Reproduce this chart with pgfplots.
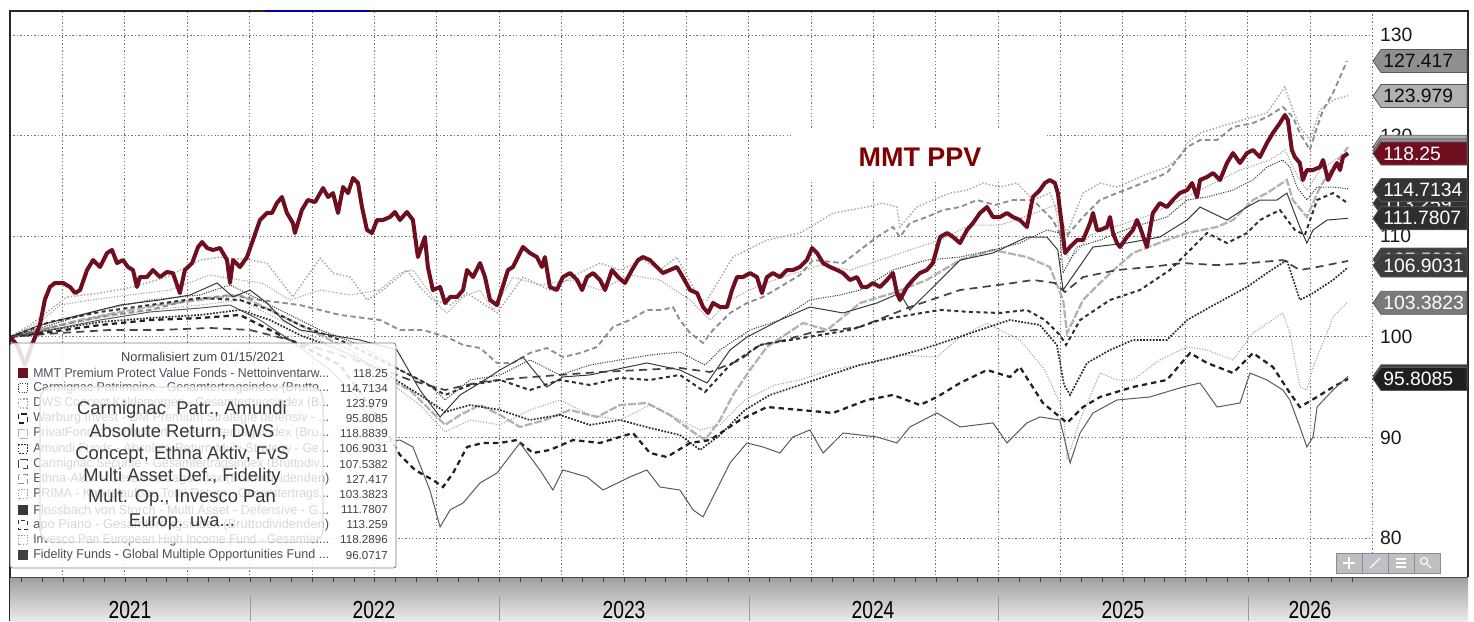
\documentclass[border=0pt]{standalone}
\usepackage{fontspec}
\setmainfont{Liberation Sans}
\newfontfamily\narrowfont[FakeStretch=0.78]{Liberation Sans}
\usepackage{graphicx}
\usepackage{pgfplots}
\pgfplotsset{compat=1.18}
\definecolor{mmtred}{HTML}{6E0E1E}
\definecolor{ppvred}{HTML}{800000}
\definecolor{dwsc}{HTML}{A8A8A8}
\definecolor{ethnac}{HTML}{8E8E8E}
\definecolor{privc}{HTML}{B2B2B2}
\definecolor{invc}{HTML}{9C9C9C}
\definecolor{cpatc}{HTML}{3C3C3C}
\definecolor{flossc}{HTML}{383838}
\definecolor{apoc}{HTML}{303030}
\definecolor{csecc}{HTML}{444444}
\definecolor{amuc}{HTML}{2C2C2C}
\definecolor{primac}{HTML}{A2A2A2}
\definecolor{warbc}{HTML}{222222}
\definecolor{fidc}{HTML}{5A5A5A}
\definecolor{legtxt}{HTML}{4A4F5C}
\tikzset{
 sdws/.style={dwsc, line width=1.1pt, dash pattern=on 1.1pt off 1.4pt},
 sethna/.style={ethnac, line width=1.4pt, dash pattern=on 4pt off 2.5pt},
 spriv/.style={privc, line width=1.7pt, dash pattern=on 6pt off 1.5pt},
 sinv/.style={invc, line width=0.8pt, dash pattern=on 0.8pt off 1.2pt},
 scpat/.style={cpatc, line width=0.8pt, dash pattern=on 0.8pt off 1pt},
 sfloss/.style={flossc, line width=0.75pt},
 sapo/.style={apoc, line width=1.5pt, dash pattern=on 3pt off 2.5pt},
 scsec/.style={csecc, line width=1.3pt, dash pattern=on 6pt off 4pt},
 samu/.style={amuc, line width=1.3pt, dash pattern=on 1.3pt off 1.1pt},
 sprima/.style={primac, line width=0.8pt, dash pattern=on 0.8pt off 1.2pt},
 swarb/.style={warbc, line width=1.7pt, dash pattern=on 4pt off 3pt},
 sfid/.style={fidc, line width=0.75pt},
 smmt/.style={mmtred, line width=3pt, line join=round},
}
\newcommand{\tagfont}{\fontsize{14.5pt}{16pt}\selectfont}
\newcommand{\valtag}[4]{%
 \filldraw[fill=#2, draw=black!65, line width=0.6pt] (1373,#1) -- (1381,{#1-11.5}) -- (1467,{#1-11.5}) -- (1467,{#1+11.5}) -- (1381,{#1+11.5}) -- cycle;
 \node[anchor=west, text=#3, font=\tagfont, inner sep=0pt] at (1383,#1) {#4};}
\newcommand{\legrow}[4]{% row index, marker style, name, value
 \node[anchor=west, inner sep=0pt, text=legtxt, font=\fontsize{9.6pt}{11pt}\selectfont] at (33,{373+15.17*(#1-1)}) {\resizebox{222pt}{\height}{#3}};
 \node[anchor=east, inner sep=0pt, text=black!75, font=\fontsize{8.7pt}{10pt}\selectfont] at (388,{373+15.17*(#1-1)}) {#4};
 \draw[#2] (18.5,{373+15.17*(#1-1)-4.5}) rectangle (27.5,{373+15.17*(#1-1)+4.5});}
\begin{document}
\begin{tikzpicture}
\path (0,0) rectangle (1105.5pt,-465.75pt);
\begin{axis}[at={(7.5pt,-431.25pt)}, anchor=south west, scale only axis,
 width=1021.5pt, height=423pt,
 xmin=0.0401, xmax=5.499, ymin=76.32, ymax=132.39,
 axis line style={draw=none},
 xtick={0.25,0.5,0.75,1,1.25,1.5,1.75,2,2.25,2.5,2.75,3,3.25,3.5,3.75,4,4.25,4.5,4.75,5,5.25},
 xticklabels={},
 ytick={80,90,100,110,120,130},
 grid=major, major grid style={black!55, line width=0.5pt, dash pattern=on 1pt off 1.6pt},
 tick style={draw=none},
 yticklabel pos=right,
 /pgf/number format/assume math mode=true,
 yticklabel style={anchor=west, inner sep=0pt, xshift=6pt, font=\tagfont, text=black!90},
]
\fill[white] (axis cs:3.178,115.39) rectangle (axis cs:4.192,120.66);
% DWS Concept Kaldemorgen
\addplot[sdws] coordinates {(0.040,99.98)(0.120,101.17)(0.200,102.67)(0.269,103.96)(0.401,104.35)(0.533,104.95)(0.669,105.94)(0.802,107.63)(0.882,107.93)(1.002,107.63)(1.070,107.33)(1.174,103.96)(1.283,107.83)(1.335,106.34)(1.403,105.94)(1.471,103.66)(1.535,104.65)(1.631,106.64)(1.683,104.95)(1.735,103.66)(1.804,103.16)(1.872,104.35)(1.992,102.37)(2.096,105.94)(2.204,104.65)(2.305,106.14)(2.405,107.33)(2.485,106.64)(2.577,107.63)(2.645,106.64)(2.713,107.93)(2.806,103.66)(2.834,103.66)(2.938,107.93)(3.074,109.62)(3.206,110.32)(3.275,111.31)(3.339,112.31)(3.407,112.61)(3.475,112.90)(3.539,113.30)(3.595,112.90)(3.607,110.92)(3.675,112.90)(3.739,113.60)(3.808,114.29)(3.876,114.59)(3.940,115.29)(4.008,114.89)(4.076,115.29)(4.140,113.60)(4.208,114.29)(4.248,111.91)(4.277,110.32)(4.341,114.29)(4.409,115.29)(4.477,114.89)(4.541,115.59)(4.609,116.28)(4.677,116.88)(4.729,117.87)(4.758,119.27)(4.810,120.26)(4.910,121.05)(5.022,121.85)(5.078,122.25)(5.150,124.83)(5.182,122.55)(5.210,120.85)(5.250,119.56)(5.291,122.55)(5.343,123.54)(5.403,123.98)};
% PrivatFonds
\addplot[spriv] coordinates {(0.040,99.98)(0.160,100.68)(0.321,101.67)(0.481,102.47)(0.641,103.16)(0.802,103.66)(0.962,104.16)(1.042,103.16)(1.162,101.67)(1.283,100.18)(1.403,98.69)(1.523,96.21)(1.643,94.71)(1.723,92.73)(1.784,91.24)(1.844,92.23)(1.924,93.22)(2.004,92.23)(2.084,91.04)(2.184,91.73)(2.285,92.73)(2.393,92.03)(2.485,93.22)(2.593,93.42)(2.685,92.23)(2.766,90.74)(2.826,89.74)(2.886,91.73)(2.938,94.22)(3.006,96.70)(3.074,98.99)(3.146,100.18)(3.218,101.37)(3.315,100.68)(3.379,101.97)(3.447,103.36)(3.579,104.35)(3.715,105.65)(3.780,106.64)(3.848,107.63)(3.980,108.63)(4.116,107.93)(4.208,106.94)(4.261,103.66)(4.277,100.38)(4.341,103.66)(4.409,105.35)(4.477,106.94)(4.541,108.33)(4.677,109.62)(4.758,110.32)(4.878,110.92)(4.942,111.61)(5.022,113.60)(5.078,114.29)(5.158,115.59)(5.182,113.60)(5.238,111.91)(5.291,114.89)(5.343,116.88)(5.403,118.87)};
% Invesco Pan European High Income
\addplot[sinv] coordinates {(0.040,99.98)(0.160,101.47)(0.240,103.16)(0.361,103.66)(0.521,104.16)(0.681,104.65)(0.842,106.14)(0.962,105.65)(1.050,105.35)(1.162,103.66)(1.283,104.65)(1.403,104.16)(1.523,104.65)(1.603,106.34)(1.655,106.64)(1.695,105.35)(1.764,102.96)(1.792,102.37)(1.856,103.96)(1.924,104.65)(1.976,102.67)(2.056,105.94)(2.164,105.15)(2.285,105.65)(2.405,104.65)(2.525,106.14)(2.645,105.65)(2.766,103.66)(2.846,101.67)(2.926,103.66)(3.046,105.15)(3.166,106.14)(3.287,107.13)(3.407,106.64)(3.527,107.63)(3.647,108.63)(3.768,109.62)(3.888,111.11)(4.008,111.11)(4.128,112.11)(4.228,113.10)(4.261,108.63)(4.289,107.63)(4.369,110.12)(4.489,111.11)(4.609,112.11)(4.729,113.60)(4.850,115.09)(4.970,116.58)(5.090,117.58)(5.150,118.57)(5.198,116.08)(5.238,114.59)(5.291,116.58)(5.351,117.58)(5.403,118.29)};
% PRIMA
\addplot[sprima] coordinates {(0.040,99.98)(0.200,100.88)(0.401,101.87)(0.601,102.67)(0.802,103.16)(0.962,103.66)(1.082,102.17)(1.202,100.68)(1.363,98.69)(1.523,96.21)(1.683,93.22)(1.784,90.54)(1.884,91.73)(2.004,91.24)(2.124,92.73)(2.244,93.72)(2.365,92.23)(2.485,91.73)(2.605,93.22)(2.725,91.73)(2.806,90.74)(2.886,91.24)(2.986,93.72)(3.106,95.21)(3.206,95.71)(3.327,96.70)(3.447,97.20)(3.607,98.19)(3.756,97.99)(3.848,99.98)(3.956,101.37)(4.088,99.68)(4.188,96.70)(4.261,92.73)(4.277,87.76)(4.329,91.73)(4.409,96.40)(4.477,95.71)(4.541,95.71)(4.649,97.70)(4.758,98.99)(4.838,98.69)(4.942,97.70)(5.022,100.38)(5.142,102.37)(5.170,100.38)(5.210,95.01)(5.238,94.71)(5.263,97.00)(5.319,100.38)(5.343,101.97)(5.399,103.38)};
% Ethna-Aktiv
\addplot[sethna] coordinates {(0.040,100.00)(0.160,100.68)(0.301,101.47)(0.441,102.17)(0.601,102.67)(0.762,103.66)(0.922,104.16)(1.042,103.66)(1.202,103.16)(1.363,102.17)(1.523,101.67)(1.603,100.68)(1.695,100.68)(1.792,99.98)(1.856,99.19)(1.924,98.89)(1.992,97.40)(2.056,97.40)(2.124,98.39)(2.192,98.89)(2.256,97.99)(2.325,98.39)(2.393,98.99)(2.457,100.98)(2.525,101.67)(2.593,102.67)(2.657,102.67)(2.697,102.96)(2.725,101.67)(2.766,100.38)(2.818,99.39)(2.858,100.68)(2.926,102.37)(2.994,103.36)(3.058,103.96)(3.126,104.95)(3.206,106.14)(3.259,107.63)(3.379,107.33)(3.447,108.63)(3.515,109.92)(3.579,110.92)(3.607,109.92)(3.647,111.31)(3.715,111.91)(3.780,112.61)(3.848,112.90)(3.916,113.60)(3.988,113.10)(4.060,113.60)(4.140,113.60)(4.220,111.61)(4.261,109.62)(4.341,111.91)(4.409,113.60)(4.477,114.29)(4.541,114.89)(4.609,115.59)(4.677,116.28)(4.717,117.58)(4.758,118.87)(4.810,119.56)(4.878,119.56)(4.942,120.85)(5.022,121.25)(5.078,121.85)(5.142,122.85)(5.182,121.85)(5.210,120.26)(5.250,118.57)(5.279,120.85)(5.303,122.55)(5.343,124.24)(5.371,125.83)(5.399,127.42)};
% Carmignac Securite
\addplot[scsec] coordinates {(0.040,99.98)(0.240,100.38)(0.441,100.68)(0.641,100.68)(0.842,100.88)(1.002,100.68)(1.162,99.68)(1.323,98.49)(1.483,97.20)(1.643,95.71)(1.784,94.71)(1.924,95.51)(2.084,95.91)(2.244,96.21)(2.405,96.50)(2.565,96.70)(2.725,96.90)(2.846,96.50)(2.966,97.70)(3.046,99.19)(3.146,99.68)(3.246,100.38)(3.447,100.98)(3.647,102.96)(3.848,104.65)(4.060,105.35)(4.140,105.65)(4.228,105.35)(4.269,104.45)(4.341,105.94)(4.477,106.64)(4.609,106.94)(4.741,107.33)(4.878,107.13)(5.010,107.33)(5.142,107.63)(5.210,106.64)(5.279,106.94)(5.403,107.54)};
% Carmignac Patrimoine
\addplot[scpat] coordinates {(0.040,99.98)(0.200,101.17)(0.401,102.67)(0.601,103.66)(0.802,104.16)(0.922,105.15)(1.002,104.16)(1.122,102.67)(1.283,100.68)(1.443,99.19)(1.603,96.70)(1.723,95.21)(1.784,93.72)(1.884,95.71)(2.004,96.21)(2.124,97.70)(2.244,96.21)(2.365,97.20)(2.485,97.70)(2.605,98.19)(2.725,98.49)(2.826,97.20)(2.886,98.69)(3.006,100.68)(3.126,101.67)(3.246,103.66)(3.367,104.16)(3.447,104.65)(3.579,106.64)(3.715,107.63)(3.848,107.93)(3.980,108.63)(4.088,109.32)(4.196,110.62)(4.248,110.32)(4.261,106.34)(4.317,108.93)(4.409,109.62)(4.477,110.32)(4.541,110.92)(4.677,111.91)(4.758,113.60)(4.838,113.90)(4.942,114.59)(5.022,115.59)(5.078,116.88)(5.142,117.58)(5.170,116.88)(5.198,114.89)(5.238,113.60)(5.279,114.89)(5.343,114.89)(5.403,114.71)};
% Flossbach von Storch
\addplot[sfloss] coordinates {(0.040,99.98)(0.160,101.17)(0.321,102.17)(0.481,103.16)(0.641,103.66)(0.762,104.16)(0.870,105.35)(0.934,103.96)(1.002,104.65)(1.070,103.36)(1.134,101.67)(1.202,100.68)(1.323,100.18)(1.443,99.68)(1.591,98.69)(1.683,94.71)(1.764,92.03)(1.844,94.22)(1.924,95.41)(2.004,96.70)(2.096,97.99)(2.192,95.01)(2.256,96.01)(2.365,96.21)(2.457,96.70)(2.593,97.40)(2.725,96.70)(2.834,95.41)(2.926,98.69)(2.994,99.98)(3.126,101.67)(3.246,102.96)(3.379,102.37)(3.515,103.36)(3.607,104.35)(3.647,102.67)(3.756,105.35)(3.848,107.63)(3.980,108.33)(4.116,109.92)(4.196,109.92)(4.240,108.63)(4.261,104.65)(4.289,105.65)(4.381,108.93)(4.517,109.32)(4.649,109.92)(4.758,111.61)(4.810,112.90)(4.918,111.61)(4.998,112.90)(5.050,113.60)(5.118,113.60)(5.158,114.29)(5.210,110.92)(5.238,109.32)(5.263,110.62)(5.319,111.61)(5.403,111.78)};
% apo Piano
\addplot[sapo] coordinates {(0.040,99.98)(0.200,101.47)(0.401,102.47)(0.601,103.16)(0.802,103.86)(0.962,103.66)(1.082,102.67)(1.202,101.17)(1.363,99.68)(1.523,97.70)(1.683,95.71)(1.784,94.22)(1.884,95.21)(2.004,95.71)(2.124,94.71)(2.244,95.71)(2.365,95.21)(2.485,95.91)(2.605,95.71)(2.725,96.21)(2.826,94.52)(2.926,97.20)(3.046,99.19)(3.166,99.68)(3.287,100.18)(3.407,100.68)(3.527,101.67)(3.647,102.17)(3.768,102.67)(3.888,102.47)(4.008,102.37)(4.116,102.67)(4.188,101.67)(4.248,100.18)(4.273,99.19)(4.329,101.67)(4.449,103.66)(4.569,104.65)(4.689,106.64)(4.770,108.63)(4.838,110.32)(4.918,109.32)(4.998,110.32)(5.050,111.61)(5.130,112.61)(5.190,110.62)(5.230,110.12)(5.279,113.60)(5.343,114.29)(5.403,113.26)};
% Amundi
\addplot[samu] coordinates {(0.040,99.98)(0.200,100.68)(0.401,101.47)(0.601,101.87)(0.802,102.17)(0.962,102.67)(1.082,101.67)(1.202,100.18)(1.363,98.69)(1.523,96.70)(1.683,94.22)(1.784,92.53)(1.884,93.22)(2.004,92.73)(2.124,91.73)(2.244,92.23)(2.365,91.24)(2.485,91.73)(2.605,90.94)(2.725,90.24)(2.806,88.75)(2.886,90.24)(2.986,92.73)(3.086,94.22)(3.206,95.21)(3.327,96.21)(3.447,97.20)(3.567,97.89)(3.687,98.69)(3.808,99.68)(3.928,100.68)(4.048,101.67)(4.168,101.17)(4.236,99.19)(4.265,95.21)(4.289,94.22)(4.357,97.40)(4.449,98.69)(4.541,99.68)(4.677,99.68)(4.758,101.67)(4.850,102.96)(4.998,104.95)(5.078,106.34)(5.158,107.63)(5.210,103.66)(5.263,104.35)(5.343,105.65)(5.403,106.90)};
% Warburg
\addplot[swarb] coordinates {(0.040,99.98)(0.200,100.48)(0.401,101.17)(0.601,101.67)(0.802,101.87)(0.962,102.17)(1.082,100.68)(1.202,99.19)(1.363,97.20)(1.523,91.73)(1.603,88.25)(1.663,86.76)(1.735,85.77)(1.776,85.07)(1.816,86.46)(1.872,89.05)(1.936,89.45)(2.004,89.45)(2.072,89.74)(2.136,88.45)(2.204,88.75)(2.297,89.74)(2.405,89.45)(2.537,90.44)(2.605,88.45)(2.673,88.05)(2.766,89.45)(2.846,89.74)(2.966,91.73)(3.074,93.02)(3.206,92.73)(3.339,92.43)(3.475,93.72)(3.579,94.22)(3.687,93.22)(3.756,94.02)(3.848,95.41)(3.956,96.70)(4.048,96.01)(4.088,97.00)(4.180,93.42)(4.248,92.03)(4.277,91.44)(4.341,93.02)(4.409,94.02)(4.541,95.01)(4.677,95.71)(4.770,98.39)(4.838,97.40)(4.942,96.40)(5.022,98.39)(5.102,97.00)(5.170,94.42)(5.210,93.02)(5.279,94.02)(5.343,95.01)(5.403,95.81)};
% Fidelity
\addplot[sfid] coordinates {(0.040,99.98)(0.200,100.68)(0.401,101.67)(0.601,102.47)(0.802,102.86)(0.922,103.16)(1.042,101.67)(1.162,99.68)(1.323,96.70)(1.443,93.72)(1.523,89.45)(1.603,89.74)(1.655,89.05)(1.723,84.77)(1.764,81.10)(1.804,82.79)(1.856,83.48)(1.924,85.47)(1.992,86.46)(2.084,89.45)(2.164,86.76)(2.216,84.77)(2.256,86.76)(2.353,86.07)(2.417,84.77)(2.525,86.07)(2.593,86.76)(2.645,85.07)(2.725,84.77)(2.778,82.79)(2.818,82.09)(2.858,84.08)(2.926,87.46)(2.994,89.45)(3.058,89.05)(3.126,88.45)(3.178,90.04)(3.246,90.74)(3.299,88.45)(3.379,90.44)(3.515,90.04)(3.595,89.45)(3.647,91.04)(3.756,92.43)(3.848,91.04)(3.980,91.44)(4.036,89.45)(4.116,91.44)(4.168,92.03)(4.248,91.73)(4.277,88.75)(4.289,87.46)(4.329,90.44)(4.381,92.43)(4.477,93.72)(4.609,94.02)(4.741,95.01)(4.810,95.41)(4.878,93.02)(4.970,93.42)(5.010,96.40)(5.078,95.71)(5.142,94.71)(5.170,93.72)(5.210,91.04)(5.238,89.05)(5.263,90.04)(5.279,93.02)(5.343,94.71)(5.403,96.07)};
% MMT Premium Protect Value
\addplot[smmt] coordinates {(0.040,100.0)(0.068,99.2)(0.100,97.2)(0.128,99.2)(0.160,101.2)(0.180,103.7)(0.200,104.95)(0.220,105.35)(0.253,105.35)(0.281,104.95)(0.301,104.35)(0.321,104.65)(0.349,106.64)(0.373,107.63)(0.401,106.94)(0.429,108.33)(0.449,108.63)(0.469,107.33)(0.493,107.63)(0.513,106.94)(0.533,106.64)(0.549,104.95)(0.561,105.94)(0.589,105.94)(0.613,106.64)(0.641,105.94)(0.669,106.44)(0.693,106.34)(0.721,104.35)(0.741,106.64)(0.770,107.33)(0.794,108.93)(0.810,109.42)(0.830,108.83)(0.854,108.63)(0.882,108.83)(0.910,107.63)(0.922,105.35)(0.934,107.63)(0.962,106.94)(0.990,107.93)(1.014,109.62)(1.042,111.61)(1.070,112.31)(1.090,112.31)(1.110,113.30)(1.130,113.90)(1.150,112.31)(1.174,111.31)(1.182,110.32)(1.210,112.61)(1.234,113.60)(1.263,113.40)(1.295,114.79)(1.315,113.90)(1.335,114.29)(1.355,112.31)(1.375,114.89)(1.395,114.29)(1.415,115.79)(1.435,115.29)(1.451,112.90)(1.471,110.62)(1.491,110.32)(1.511,111.61)(1.535,111.61)(1.563,111.91)(1.583,112.41)(1.603,111.61)(1.631,112.41)(1.655,111.61)(1.675,107.93)(1.703,109.92)(1.715,106.94)(1.735,104.65)(1.764,104.95)(1.784,103.36)(1.804,103.96)(1.832,103.96)(1.856,104.65)(1.872,106.64)(1.896,105.94)(1.924,107.33)(1.944,105.94)(1.964,103.66)(1.992,103.16)(2.036,106.64)(2.056,106.94)(2.096,108.93)(2.124,108.33)(2.152,107.93)(2.172,106.94)(2.184,107.93)(2.204,104.95)(2.232,104.65)(2.256,105.94)(2.285,106.34)(2.313,105.65)(2.333,104.65)(2.353,105.94)(2.377,106.34)(2.405,105.65)(2.425,104.65)(2.453,106.64)(2.477,105.94)(2.505,105.35)(2.533,106.64)(2.557,107.63)(2.577,107.93)(2.605,107.63)(2.633,106.94)(2.657,106.34)(2.685,106.64)(2.713,106.94)(2.737,105.94)(2.766,104.65)(2.794,104.35)(2.818,102.96)(2.838,102.37)(2.858,103.36)(2.886,102.96)(2.914,102.96)(2.934,104.65)(2.954,105.94)(2.978,105.94)(3.006,106.34)(3.034,105.94)(3.054,104.35)(3.074,105.94)(3.098,106.34)(3.126,105.94)(3.154,106.64)(3.178,106.64)(3.206,106.94)(3.234,107.63)(3.255,108.83)(3.275,108.33)(3.299,107.33)(3.327,106.94)(3.355,106.64)(3.379,106.34)(3.407,105.65)(3.435,105.94)(3.455,104.95)(3.475,104.95)(3.499,105.35)(3.527,104.95)(3.555,105.65)(3.579,106.34)(3.595,104.35)(3.607,103.66)(3.635,104.95)(3.659,105.65)(3.687,106.34)(3.715,106.64)(3.739,107.33)(3.768,109.92)(3.796,110.32)(3.820,109.92)(3.848,109.32)(3.876,110.62)(3.900,111.31)(3.928,112.31)(3.956,112.90)(3.980,111.91)(4.008,111.91)(4.036,112.31)(4.060,111.91)(4.088,111.61)(4.116,110.92)(4.140,113.90)(4.168,114.59)(4.188,115.29)(4.208,115.59)(4.228,115.29)(4.240,114.29)(4.257,110.92)(4.269,108.33)(4.289,108.93)(4.317,109.62)(4.341,109.62)(4.369,111.31)(4.381,112.31)(4.397,110.62)(4.409,110.62)(4.437,110.92)(4.449,111.91)(4.461,110.32)(4.477,109.32)(4.489,108.93)(4.517,109.92)(4.541,110.62)(4.557,111.61)(4.569,110.92)(4.597,108.93)(4.621,112.31)(4.649,113.30)(4.677,112.90)(4.701,113.60)(4.729,114.29)(4.758,114.59)(4.778,115.29)(4.798,113.90)(4.810,115.59)(4.838,115.89)(4.862,116.28)(4.890,115.59)(4.918,117.28)(4.942,118.27)(4.970,117.28)(4.998,118.27)(5.022,118.57)(5.050,117.87)(5.078,119.27)(5.102,120.26)(5.130,121.25)(5.150,122.05)(5.162,121.55)(5.178,118.57)(5.190,117.87)(5.210,117.28)(5.222,115.59)(5.238,116.58)(5.263,116.58)(5.291,116.88)(5.303,117.58)(5.323,115.59)(5.343,116.58)(5.359,117.28)(5.371,116.58)(5.383,117.87)(5.403,118.25)};
\end{axis}
\begin{scope}[x=0.75pt,y=-0.75pt]
% frame
\draw[black!55, line width=0.5pt, dash pattern=on 1pt off 1.6pt] (1372,11) -- (1372,575);
\draw[black!85, line width=0.9pt] (10,621) -- (10,11) -- (1468,11) -- (1468,577);
\draw[blue!65!black, line width=1.2pt] (265,11) -- (370,11);
% date band
\shade[top color=black!38, bottom color=black!8] (10,577) rectangle (1468,621);
\draw[black!70, line width=0.6pt] (10,577) -- (1468,577);
\foreach \m in {1,...,65} {\draw[black!75, line width=0.5pt] ({0.5+20.79*\m},577) -- ({0.5+20.79*\m},582);}
\foreach \xx in {250,499,749,998,1248} {\draw[black!40, line width=0.6pt] (\xx,596) -- (\xx,621);}
\foreach \xx/\yy in {130/2021,374/2022,624/2023,873/2024,1123/2025,1310/2026}
 {\node[font=\narrowfont\fontsize{18.5pt}{20pt}\selectfont, text=black, inner sep=0pt] at (\xx,609.5) {\yy};}
% MMT PPV label
\node[font=\bfseries\fontsize{20.2pt}{22pt}\selectfont, text=ppvred, inner sep=0pt] at (920,157) {MMT PPV};
% value tags
\valtag{61}{black!44}{black!95}{127.417}
\valtag{96}{black!31}{black!95}{123.979}
\valtag{146.8}{black!33}{black!95}{118.8839}
\valtag{150.5}{black!42}{black!95}{118.2896}
\valtag{153.5}{mmtred}{white}{118.25}
\valtag{203.4}{black!80}{white}{113.259}
\valtag{190}{black!80}{white}{114.7134}
\valtag{218.3}{black!82}{white}{111.7807}
\valtag{259.5}{black!75}{white}{107.5382}
\valtag{265.5}{black!76}{white}{106.9031}
\valtag{302.8}{black!52}{white}{103.3823}
\valtag{376.3}{black!75}{white}{96.0717}
\valtag{379}{black!88}{white}{95.8085}
% toolbar
\foreach \i/\c in {0/black!25,1/blue!15!black!25,2/black!25,3/black!25}
 {\filldraw[fill=\c, draw=black!45, line width=0.5pt] ({1336+26*\i},553) rectangle ({1362+26*\i},573);}
\draw[white, line width=0.8pt] (1343,563) -- (1355,563) (1349,557) -- (1349,569);
\draw[white, line width=0.8pt] (1370,568) -- (1380,558);
\draw[white, line width=0.8pt] (1396,559) -- (1406,559) (1396,563) -- (1406,563) (1396,567) -- (1406,567);
\draw[white, line width=0.8pt] (1424,561) circle (3.5) (1426.5,563.5) -- (1431,568);
% legend
\filldraw[fill=white, fill opacity=0.86, draw=black!50, line width=0.6pt, rounded corners=2pt] (10,343) rectangle (396,568);
\node[text=black!75, inner sep=0pt, font=\fontsize{9.6pt}{11pt}\selectfont] at (203,357) {Normalisiert zum 01/15/2021};
\legrow{1}{fill=mmtred, draw=mmtred}{MMT Premium Protect Value Fonds - Nettoinventarw...}{118.25}
\legrow{2}{scpat}{Carmignac Patrimoine - Gesamtertragsindex (Brutto...}{114.7134}
\legrow{3}{sdws}{DWS Concept Kaldemorgen - Gesamtertragsindex (B...}{123.979}
\legrow{4}{swarb, line width=0.8pt}{Warburg Invest - DM Premium Strategie defensiv - ...}{95.8085}
\legrow{5}{spriv, line width=0.8pt}{PrivatFonds: Kontrolliert - Gesamtertragsindex (Bru...}{118.8839}
\legrow{6}{samu, line width=0.8pt}{Amundi Funds - Absolute Return Multi-Strategy - Ge...}{106.9031}
\legrow{7}{scsec, line width=0.8pt}{Carmignac Securite - Gesamtertragsindex (Bruttodiv...}{107.5382}
\legrow{8}{sethna, line width=0.8pt}{Ethna-Aktiv - Gesamtertragsindex (Bruttodividenden)}{127.417}
\legrow{9}{sprima}{PRIMA - Kapitalaufbau Total Return - Gesamtertrags...}{103.3823}
\legrow{10}{fill=flossc, draw=flossc}{Flossbach von Storch - Multi Asset - Defensive - G...}{111.7807}
\legrow{11}{sapo, line width=0.8pt}{apo Piano - Gesamtertragsindex (Bruttodividenden)}{113.259}
\legrow{12}{sinv}{Invesco Pan European High Income Fund - Gesamter...}{118.2896}
\legrow{13}{fill=black!75, draw=black!75}{Fidelity Funds - Global Multiple Opportunities Fund ...}{96.0717}
% overlay note
\filldraw[fill=white, fill opacity=0.78, draw=black!12, line width=1pt, rounded corners=9pt] (40,387) rectangle (323,542);
\begin{scope}[font=\fontsize{13.8pt}{16pt}\selectfont]
\foreach \yy/\tt in {410/{Carmignac\ \ Patr., Amundi},432/{Absolute Return, DWS},455/{Concept, Ethna Aktiv, FvS},477/{Multi Asset Def., Fidelity},498/{Mult. Op., Invesco Pan},522/{Europ. uva...}}
 {\node[text=black!78, inner sep=0pt] at (182,\yy) {\tt};}
\end{scope}
\end{scope}
\end{tikzpicture}
\end{document}
